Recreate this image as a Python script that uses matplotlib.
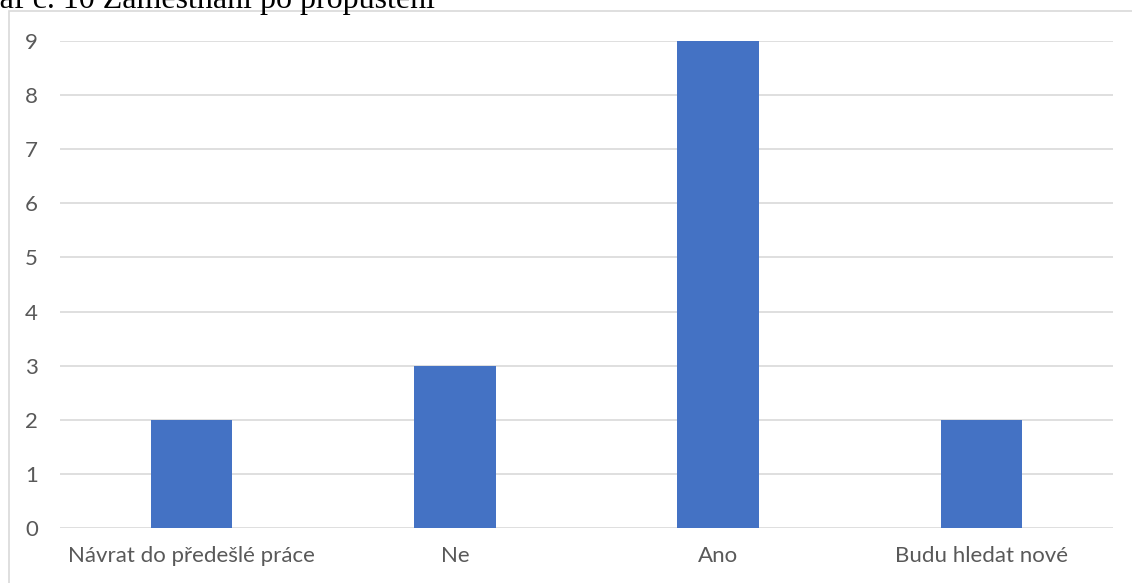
import matplotlib.pyplot as plt
from matplotlib.patches import Rectangle

# data
kategorie = ["Návrat do předešlé práce", "Ne", "Ano", "Budu hledat nové"]
pocty = [2, 3, 9, 2]
yticks = list(range(0, 10))

W, H = 1132, 583
fig = plt.figure(figsize=(W / 100, H / 100), dpi=100)

# chart frame (runs off the right and bottom edge)
fig.patches.append(Rectangle((9 / W, -0.2), 1.2, 1 - 11 / H + 0.2, transform=fig.transFigure,
                             fill=False, edgecolor="#D9D9D9", linewidth=1.2))

# caption cut off by the crop
fig.text(435 / W, 1 - 8 / H, "Graf č. 10 Zaměstnání po propuštění", ha="right", va="baseline",
         fontsize=23, family="Liberation Serif", color="black")

ax = fig.add_axes([60 / W, 1 - 528 / H, (1113 - 60) / W, (528 - 41) / H])
x = list(range(len(kategorie)))
ax.bar(x, pocty, width=0.31, color="#4472C4", zorder=3)

ax.set_xlim(-0.5, len(kategorie) - 0.5)
ax.set_ylim(0, 9)
ax.set_yticks(yticks)
ax.set_xticks(x)
ax.set_xticklabels(kategorie)
ax.grid(axis="y", color="#D9D9D9", linewidth=1.2, zorder=0)
for s in ax.spines.values():
    s.set_visible(False)
ax.tick_params(length=0, labelsize=16, labelcolor="#595959")
ax.tick_params(axis="y", pad=16)
ax.tick_params(axis="x", pad=13)
for lab in ax.get_xticklabels() + ax.get_yticklabels():
    lab.set_family("Lato")

fig.savefig("out.png", dpi=100)
